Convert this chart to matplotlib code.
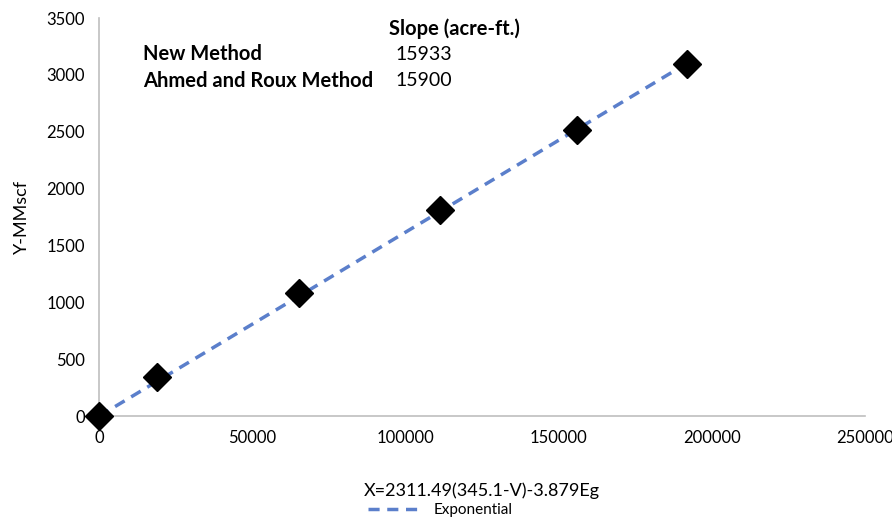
import numpy as np
import matplotlib.pyplot as plt

x_vals = [0, 19000, 65400, 111400, 155900, 191800]
y_vals = [0, 343, 1081, 1810, 2513, 3093]

methods = ["New Method", "Ahmed and Roux Method"]
slopes = ["15933", "15900"]

plt.rcParams['font.family'] = ['Lato', 'DejaVu Sans']

fig = plt.figure(figsize=(8.92, 5.17), dpi=100)
ax = fig.add_axes([0.111, 0.195, 0.859, 0.77])

# trend line through origin fitted to the points
x = np.array(x_vals, dtype=float)
y = np.array(y_vals, dtype=float)
k = np.sum(x * y) / np.sum(x * x)
xl = np.array([0, x.max()])
ax.plot(xl, k * xl, "--", color="#5B7FCB", lw=2.5, dashes=(3.2, 2.2),
        label="Exponential", zorder=2)
ax.plot(x, y, "D", color="black", ms=14, zorder=3, clip_on=False)

ax.set_xlim(0, 250000)
ax.set_ylim(0, 3500)
ax.set_xticks(np.arange(0, 250001, 50000))
ax.set_yticks(np.arange(0, 3501, 500))
ax.tick_params(length=0, labelsize=12, pad=10)
for s in ["top", "right"]:
    ax.spines[s].set_visible(False)
for s in ["left", "bottom"]:
    ax.spines[s].set_color("#BFBFBF")
    ax.spines[s].set_linewidth(1.2)

ax.set_xlabel("X=2311.49(345.1-V)-3.879Eg", fontsize=13, labelpad=26)
ax.set_ylabel("Y-MMscf", fontsize=13, labelpad=12)

H = 517
ax.text(389, H - 29, "Slope (acre-ft.)", transform=None, fontsize=14.5,
        fontweight="bold", va="center")
for i, (m, s) in enumerate(zip(methods, slopes)):
    ypx = H - (54 + 27 * i)
    ax.text(143, ypx, m, transform=None, fontsize=14.5, fontweight="bold", va="center")
    ax.text(395, ypx, s, transform=None, fontsize=14, va="center")

ax.legend(loc="center", bbox_to_anchor=(440 / 892, 7 / 517),
          bbox_transform=fig.transFigure, frameon=False,
          fontsize=11, handlelength=3.5, borderpad=0)

fig.savefig("out.png", dpi=100)
